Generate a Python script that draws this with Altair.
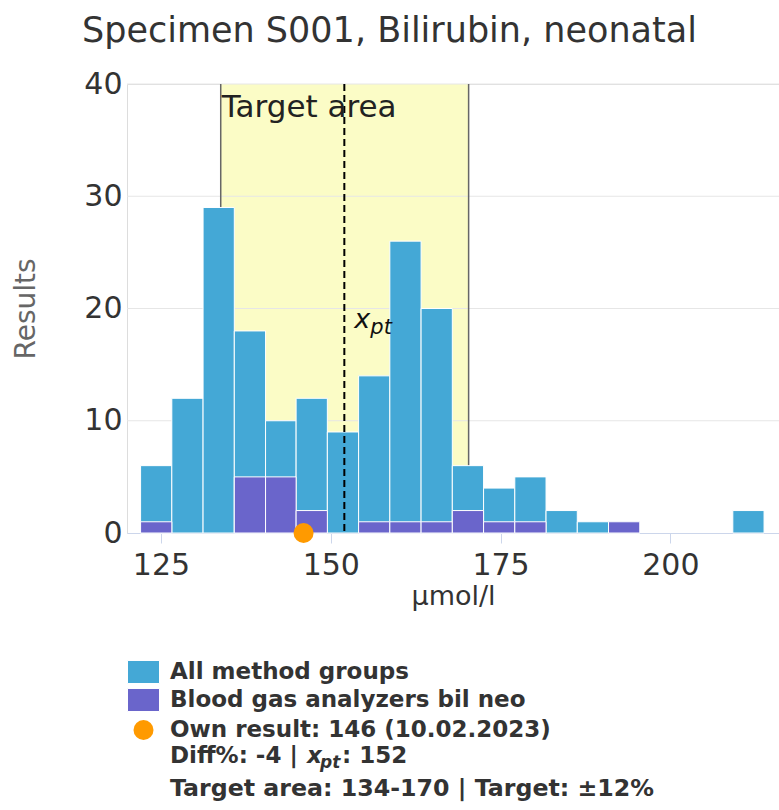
import altair as alt
import pandas as pd

# ---- data ----
bin_start = [122.0, 126.6, 131.2, 135.8, 140.4, 144.9, 149.5, 154.1, 158.7, 163.3, 167.9, 172.5, 177.1, 181.7, 186.3, 190.9, 209.2]
bin_end   = [126.6, 131.2, 135.8, 140.4, 144.9, 149.5, 154.1, 158.7, 163.3, 167.9, 172.5, 177.1, 181.7, 186.3, 190.9, 195.5, 213.8]
all_counts   = [6, 12, 29, 18, 10, 12, 9, 14, 26, 20, 6, 4, 5, 2, 1, 1, 2]
group_counts = [1, 0, 0, 5, 5, 2, 0, 1, 1, 1, 2, 1, 1, 0, 0, 1, 0]

own_result = 146
x_pt = 152
target_lo = 133.8
target_hi = 170.3
y_top = 40
grid_values = [10, 20, 30, 40]
x_ticks = [125, 150, 175, 200]
y_ticks = [0, 10, 20, 30, 40]

title_text = "Specimen S001, Bilirubin, neonatal"
legend_all = "All method groups"
legend_group = "Blood gas analyzers bil neo"
legend_own = "Own result: 146 (10.02.2023)"
legend_diff_a = "Diff%: -4 |"
legend_diff_b = ": 152"
legend_target = "Target area: 134-170 | Target: \u00b112%"

FONT = "DejaVu Sans"
W, H = 652, 449

bars = pd.DataFrame({"start": bin_start, "end": bin_end, "all": all_counts, "grp": group_counts})
bars["zero"] = 0
bars_grp = bars[bars["grp"] > 0]

xscale = alt.Scale(domain=[120, 216], nice=False, zero=False, padding=0)
yscale = alt.Scale(domain=[0, 40], nice=False, padding=0)
xaxis = alt.Axis(values=x_ticks, grid=False, domainColor="#ccd6eb", tickColor="#ccd6eb",
                 tickSize=10, labelFontSize=30, labelColor="#333333", labelPadding=7,
                 title="\u00b5mol/l", titleFontSize=27, titleFontWeight="normal",
                 titleColor="#333333", titlePadding=3, labelFont=FONT, titleFont=FONT)
yaxis = alt.Axis(values=y_ticks, grid=False, domain=False, ticks=False, labelFontSize=30,
                 labelColor="#333333", labelPadding=5, title="Results", titleFontSize=28,
                 titleFontWeight="normal", titleColor="#666666", labelFont=FONT, titleFont=FONT,
                 titleX=-101, titleY=H / 2, titleBaseline="middle", titleAlign="center")


def X(field, **kw):
    return alt.X(field, type="quantitative", scale=xscale, axis=xaxis, **kw)


def Y(field, **kw):
    return alt.Y(field, type="quantitative", scale=yscale, axis=yaxis, **kw)


base_one = alt.Chart(pd.DataFrame({"lo": [target_lo], "hi": [target_hi], "top": [y_top], "bot": [0],
                                   "xpt": [x_pt], "own": [own_result]}))

band = base_one.mark_rect(color="#fbfcc6").encode(x=X("lo"), x2="hi", y=Y("top"), y2="bot")

grid = alt.Chart(pd.DataFrame({"g": grid_values})).mark_rule(color="#e6e6e6", strokeWidth=1).encode(y=Y("g"))

edges = alt.Chart(pd.DataFrame({"e": [target_lo, target_hi], "top": [y_top, y_top], "bot": [0, 0]})).mark_rule(
    color="#666666", strokeWidth=1.5).encode(x=X("e"), y=Y("top"), y2="bot")

bar_all = alt.Chart(bars).mark_rect(color="#44a8d6", stroke="#ffffff", strokeWidth=1).encode(
    x=X("start"), x2="end", y=Y("all"), y2="zero")
bar_grp = alt.Chart(bars_grp).mark_rect(color="#6a65cb", stroke="#ffffff", strokeWidth=1).encode(
    x=X("start"), x2="end", y=Y("grp"), y2="zero")

xpt_rule = base_one.mark_rule(color="#000000", strokeWidth=2, strokeDash=[7, 4]).encode(
    x=X("xpt"), y=Y("top"), y2="bot")

target_label = base_one.mark_text(text="Target area", align="left", baseline="alphabetic", fontSize=31,
                                  font=FONT, color="#222222", dx=1, dy=33).encode(x=X("lo"), y=Y("top"))

xpt_x = base_one.mark_text(text="x", align="left", baseline="alphabetic", fontSize=27, font=FONT,
                           fontStyle="italic", color="#111111", dx=10).encode(
    x=X("xpt"), y=alt.value(244))
xpt_sub = base_one.mark_text(text="pt", align="left", baseline="alphabetic", fontSize=21, font=FONT,
                             fontStyle="italic", color="#111111", dx=26).encode(
    x=X("xpt"), y=alt.value(250))

own_dot = base_one.mark_point(shape="circle", filled=True, size=400, color="#ff9a00", opacity=1).encode(
    x=X("own"), y=Y("bot"))

# ---- legend (drawn below the plot) ----
rect_shape = "M-1,-0.72L1,-0.72L1,0.72L-1,0.72Z"
LX = 43


def leg_text(t, x, y, **kw):
    params = dict(text=t, align="left", baseline="middle", fontSize=23, font=FONT,
                  fontWeight="bold", color="#333333")
    params.update(kw)
    return base_one.mark_text(**params).encode(x=alt.value(x), y=alt.value(y))


leg_sym1 = base_one.mark_point(shape=rect_shape, size=1024, filled=True, color="#44a8d6", opacity=1,
                               stroke="#ffffff", strokeWidth=1).encode(x=alt.value(16.5), y=alt.value(588))
leg_sym2 = base_one.mark_point(shape=rect_shape, size=1024, filled=True, color="#6a65cb", opacity=1,
                               stroke="#ffffff", strokeWidth=1).encode(x=alt.value(16.5), y=alt.value(616))
leg_sym3 = base_one.mark_point(shape="circle", size=400, filled=True, color="#ff9a00", opacity=1).encode(
    x=alt.value(16.5), y=alt.value(646))

legend_layers = [
    leg_sym1, leg_sym2, leg_sym3,
    leg_text(legend_all, LX, 588),
    leg_text(legend_group, LX, 616),
    leg_text(legend_own, LX, 646),
    leg_text(legend_diff_a, LX, 672),
    leg_text("x", 180, 672, fontStyle="italic"),
    leg_text("pt", 193, 679, fontStyle="italic", fontSize=17),
    leg_text(legend_diff_b, 215, 672),
    leg_text(legend_target, LX, 705, fontSize=23.7),
]

chart = alt.layer(
    band, grid, edges, bar_all, bar_grp, xpt_rule, target_label, xpt_x, xpt_sub, own_dot,
    *legend_layers
).properties(
    width=W, height=H,
    title=alt.TitleParams(title_text, anchor="start", dx=70, fontSize=35, fontWeight="normal",
                          color="#333333", font=FONT, offset=20),
    autosize=alt.AutoSizeParams(type="none"),
    padding={"left": 127, "top": 84, "right": 0, "bottom": 277},
).configure_view(strokeWidth=0).configure(background="#ffffff")

chart.save("out.html", embed_options={"renderer": "svg", "actions": False})
